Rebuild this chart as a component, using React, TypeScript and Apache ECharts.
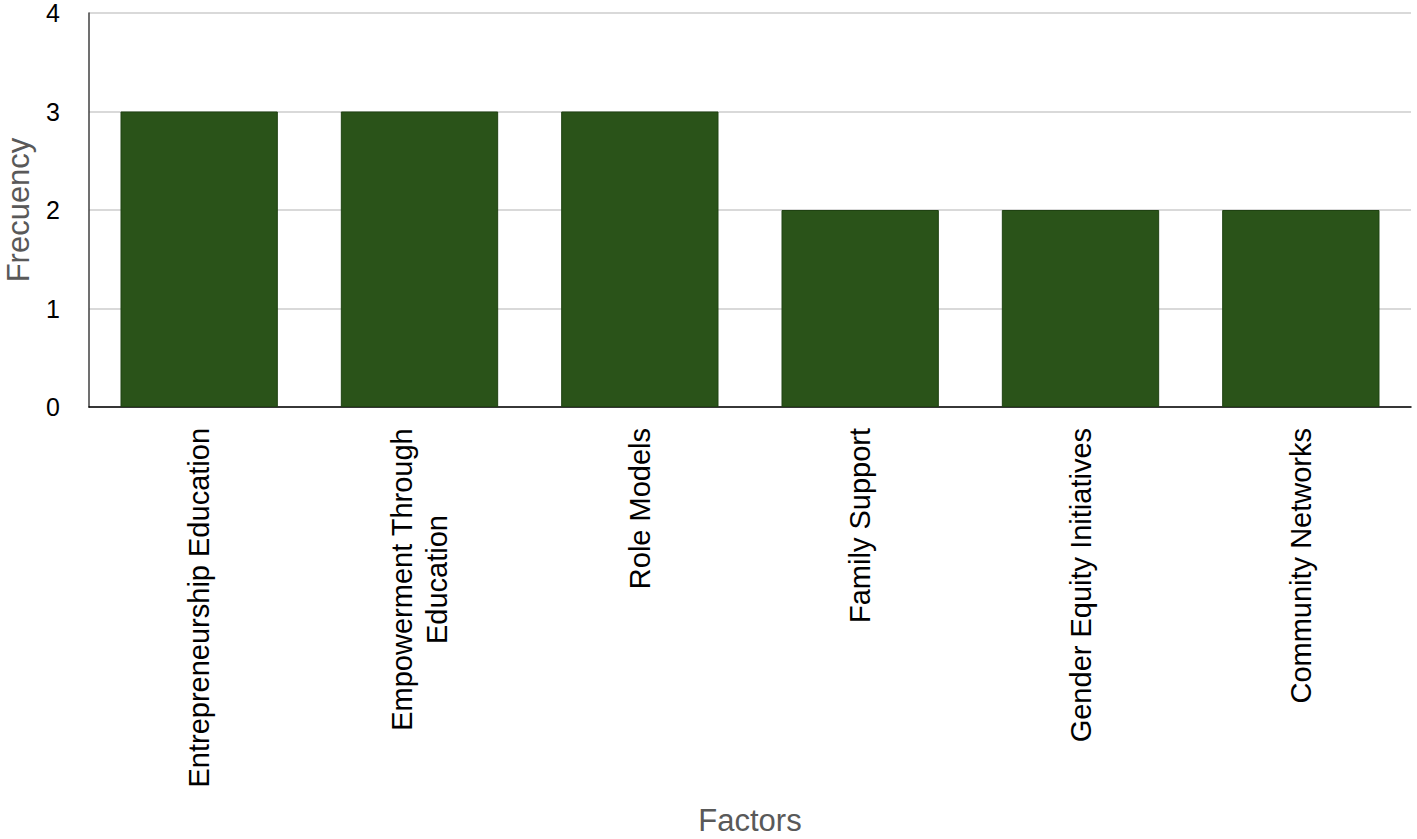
import React, { useEffect, useRef } from "react";
import * as echarts from "echarts";

const categories = [
  "Entrepreneurship Education",
  "Empowerment Through\nEducation",
  "Role Models",
  "Family Support",
  "Gender Equity Initiatives",
  "Community Networks",
];
const frequencies = [3, 3, 3, 2, 2, 2];
const yTicks = { min: 0, max: 4, interval: 1 };
const xAxisTitle = "Factors";
const yAxisTitle = "Frecuency";

export default function App() {
  const ref = useRef<HTMLDivElement>(null);
  useEffect(() => {
    document.body.style.margin = "0";
    const chart = echarts.init(ref.current!, undefined, { renderer: "svg" });
    chart.setOption({
      animation: false,
      backgroundColor: "#ffffff",
      grid: {
        left: 89,
        right: 6,
        top: 13,
        bottom: 432,
        containLabel: false,
        outerBoundsMode: "none",
      },
      xAxis: {
        type: "category",
        data: categories,
        name: xAxisTitle,
        nameLocation: "middle",
        nameGap: 398,
        nameTextStyle: {
          fontFamily: "Liberation Sans",
          fontSize: 31,
          lineHeight: 31,
          color: "#595959",
        },
        axisLine: { show: true, lineStyle: { color: "#000000", width: 1.5 } },
        axisTick: { show: false },
        axisLabel: {
          rotate: 90,
          margin: 21,
          interval: 0,
          formatter: (v: string) =>
            v.split("\n").map((l) => `{c|${l}}`).join("\n"),
          rich: {
            c: {
              align: "center",
              fontFamily: "Liberation Sans",
              fontSize: 29,
              color: "#000000",
              lineHeight: 35,
            },
          },
        },
      },
      yAxis: {
        type: "value",
        min: yTicks.min,
        max: yTicks.max,
        interval: yTicks.interval,
        name: yAxisTitle,
        nameLocation: "middle",
        nameGap: 55,
        nameTextStyle: {
          fontFamily: "Liberation Sans",
          fontSize: 31,
          lineHeight: 31,
          color: "#595959",
        },
        axisLine: { show: true, lineStyle: { color: "#404040", width: 1.5 } },
        axisTick: { show: false },
        axisLabel: {
          margin: 29,
          fontFamily: "Liberation Sans",
          fontSize: 25,
          color: "#000000",
        },
        splitLine: { show: true, lineStyle: { color: "#d9d9d9", width: 2 } },
      },
      series: [
        {
          type: "bar",
          data: frequencies,
          barCategoryGap: "28.6%",
          itemStyle: { color: "#2a5319", borderColor: "#1f4212", borderWidth: 1 },
        },
      ],
    });
    return () => chart.dispose();
  }, []);
  return (
    <div
      ref={ref}
      style={{ position: "absolute", left: 0, top: 0, width: 1417, height: 839 }}
    />
  );
}
